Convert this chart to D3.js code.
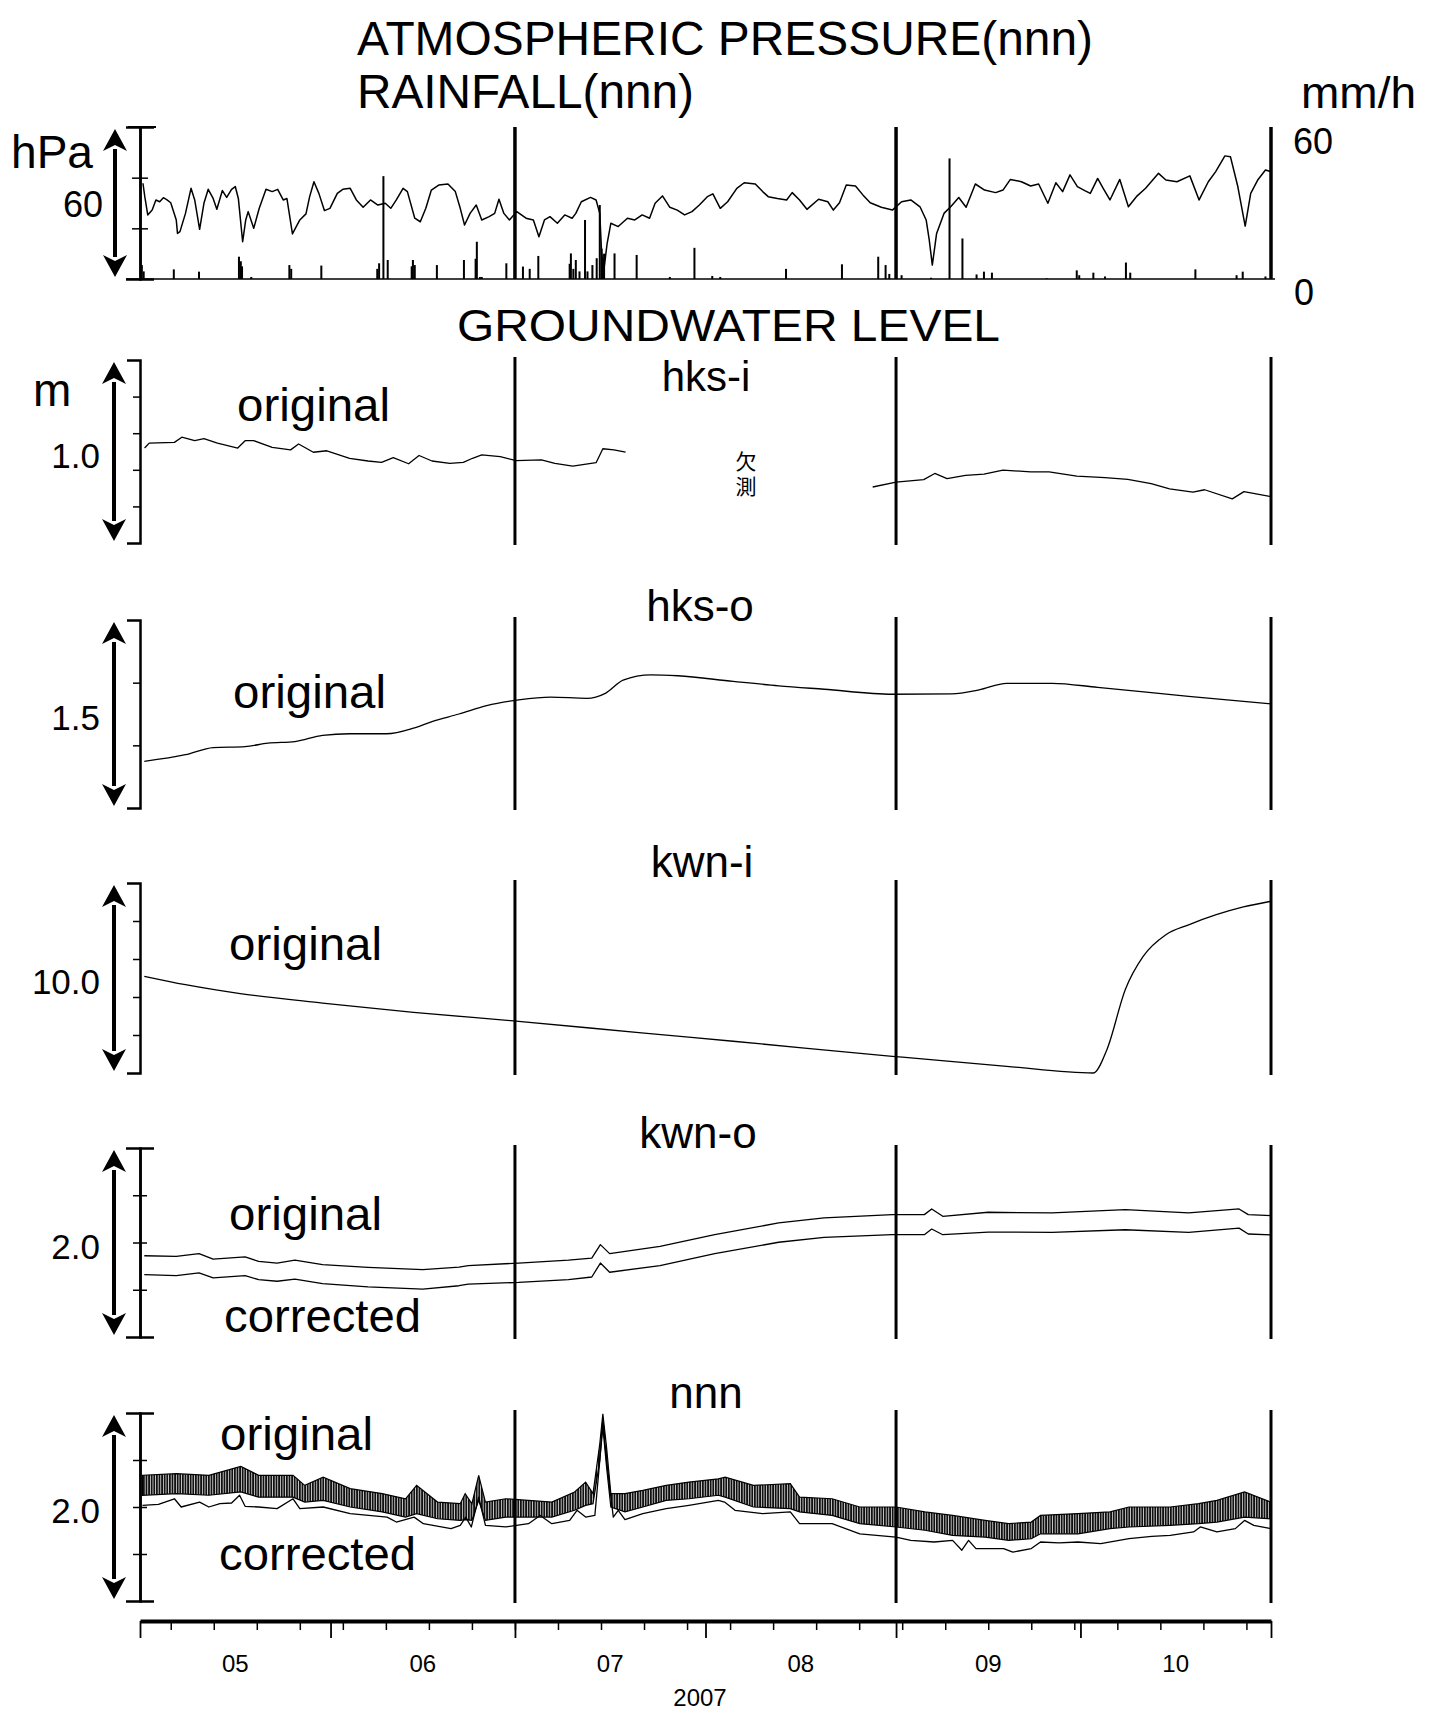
<!DOCTYPE html>
<html>
<head>
<meta charset="utf-8">
<script src="https://cdn.jsdelivr.net/npm/d3@7"></script>
<style>
  body { margin: 0; background: #fff; }
  svg { display: block; }
  text { font-family: "Liberation Sans", Arial, Helvetica, sans-serif; fill: #000; }
</style>
</head>
<body>
<svg id="chart" width="1435" height="1714"></svg>
<script>
// ---- observation period -------------------------------------------------
const periodStart = "2007-05-01";
const periodEnd = "2007-11-01";
const dividerDates = ["2007-07-01", "2007-09-01", "2007-11-01"];
const monthLabels = ["05", "06", "07", "08", "09", "10"];
const yearLabel = "2007";

// ---- atmospheric pressure: [day since May 1, value] ----------------------
const pressureRange = [30, 90];
const pressureTicks = [50, 70, 90];
const pressureLabel = 60;
const pressure = [
  [0.48,67.8],[0.78,62.5],[1.26,55.3],[1.98,57.2],[2.59,61.2],[3.2,60.5],[3.8,62.1],[4.4,61.2],[5.0,60.1],[5.9,53.3],
  [6.1,48.0],[6.5,48.7],[7.4,55.9],[8.3,65.8],[8.9,61.2],[9.7,49.6],[10.4,59.9],[11.1,65.4],[11.9,61.8],[12.5,57.5],
  [13.4,64.9],[14.1,62.2],[14.9,65.4],[15.5,66.5],[16.0,61.8],[16.7,44.7],[17.2,53.3],[17.6,56.6],[18.5,50.0],[19.4,57.9],
  [20.5,65.4],[21.5,64.5],[22.4,65.4],[23.3,61.2],[23.9,61.8],[24.8,47.8],[26.0,53.3],[27.0,55.7],[27.6,62.5],[28.3,68.4],
  [29.1,63.8],[30.0,57.0],[30.9,57.9],[32.1,63.8],[33.0,65.4],[34.2,65.8],[35.2,61.2],[36.3,58.3],[37.5,61.2],[38.7,59.2],
  [39.9,59.9],[40.8,57.9],[41.7,61.2],[42.8,65.8],[43.5,64.5],[44.7,54.0],[45.6,52.6],[46.5,57.9],[47.4,65.1],[48.6,67.1],
  [50.1,67.5],[51.3,64.5],[52.1,57.9],[52.8,51.3],[53.7,55.9],[54.7,59.2],[55.6,53.3],[56.8,54.6],[57.7,55.9],[58.4,61.5],
  [59.2,55.9],[60.1,53.3],[61.3,56.6],[62.8,54.0],[64.0,53.3],[64.9,46.7],[65.8,53.3],[66.7,54.6],[67.9,52.0],[69.1,55.3],
  [70.3,54.0],[70.9,55.9],[71.8,60.5],[73.3,62.2],[74.2,61.2],[74.8,55.9],[75.1,40.1],[75.5,34.2],[76.0,44.1],[76.6,52.0],
  [77.8,50.7],[79.3,54.0],[80.5,53.3],[81.7,55.3],[82.9,54.0],[83.8,59.9],[85.0,62.8],[86.2,58.3],[87.4,57.2],[88.6,55.3],
  [89.8,56.6],[91.0,59.2],[92.3,62.5],[93.2,63.6],[94.4,57.9],[95.6,60.5],[97.1,65.8],[98.3,68.0],[100.1,67.5],[101.3,64.5],
  [102.2,62.5],[103.7,61.8],[105.2,61.2],[106.1,64.1],[107.3,61.2],[108.5,57.5],[110.4,61.5],[111.9,60.5],[112.8,57.2],[113.8,60.1],
  [114.9,67.1],[116.4,66.7],[117.6,63.2],[118.8,60.1],[120.6,58.3],[122.4,57.2],[123.9,60.5],[125.4,61.2],[126.9,58.5],[127.9,53.3],
  [128.4,45.4],[128.9,35.5],[129.6,48.0],[130.8,55.9],[132.0,58.8],[133.2,62.2],[134.4,58.3],[135.9,67.5],[137.4,65.1],[139.2,64.1],
  [140.4,65.1],[141.6,69.3],[143.4,68.4],[144.9,66.7],[146.2,67.5],[147.7,59.9],[149.0,68.0],[150.1,64.5],[151.3,71.1],[152.5,66.5],
  [153.7,64.9],[154.6,63.8],[155.8,69.7],[156.7,65.8],[157.8,61.2],[159.4,69.3],[160.8,58.5],[162.1,62.5],[163.6,65.8],[165.7,71.7],
  [166.9,69.1],[168.7,68.4],[170.8,70.7],[172.3,61.2],[173.8,68.4],[175.0,72.4],[176.5,78.6],[177.4,78.3],[178.6,66.5],[179.8,50.9],
  [180.7,63.8],[181.9,69.3],[183.1,73.0],[183.9,72.4]
];

// ---- hourly rainfall peaks: [day since May 1, mm/h] -----------------------
const rainRange = [0, 60];
const rainLabels = [60, 0];
const rainfall = [
  [0.3,5.5],[0.6,3.0],[5.5,3.8],[9.6,2.9],[16.1,8.8],[16.4,7.0],[16.6,5.0],[18.1,0.8],[24.3,5.5],[24.6,4.0],
  [29.5,5.3],[38.6,4.0],[38.9,6.2],[39.6,40.6],[40.3,7.5],[44.2,5.0],[44.4,7.5],[44.7,5.5],[48.3,5.5],[52.7,7.5],
  [54.6,8.0],[54.8,14.7],[55.3,0.8],[55.6,0.8],[59.6,6.2],[62.3,4.9],[63.4,4.0],[64.8,9.1],[69.9,6.0],[70.1,10.1],
  [70.5,4.0],[70.9,7.5],[71.5,3.0],[72.4,23.3],[72.8,3.0],[73.6,5.5],[74.3,8.2],[74.8,29.2],[75.1,12.0],[75.3,8.0],
  [75.5,10.0],[77.2,10.1],[80.8,9.5],[86.2,0.8],[90.2,12.3],[93.1,1.2],[94.4,0.8],[105.1,4.0],[114.2,5.8],[120.1,8.8],
  [121.3,5.5],[121.9,2.0],[123.9,1.5],[128.7,0.5],[131.7,47.6],[133.8,16.0],[136.1,1.8],[137.3,2.9],[138.6,2.5],[147.5,0.3],
  [152.4,3.4],[152.8,1.5],[155.1,2.5],[157.0,1.0],[160.4,6.5],[161.1,2.5],[171.7,3.8],[178.4,1.5],[179.4,2.9],[183.1,1.0]
];

// ---- groundwater level (m) ------------------------------------------------
const hksIRange = [0.5, 1.5];
const hksITicks = [0.7, 0.9, 1.1, 1.3];
const hksI = [
  [0.75,1.019],[1.5,1.046],[5.6,1.050],[6.8,1.078],[8.9,1.059],[10.4,1.070],[12.6,1.046],[15.9,1.019],[17.1,1.059],[18.5,1.059],
  [21.5,1.022],[24.5,1.009],[25.8,1.041],[28.2,0.996],[30.4,1.004],[34.1,0.963],[37.1,0.948],[39.3,0.941],[41.2,0.967],[43.7,0.933],
  [45.4,0.978],[47.5,0.948],[50.4,0.935],[52.6,0.941],[54.1,0.963],[55.6,0.981],[58.6,0.972],[61.2,0.950],[65.3,0.954],[67.5,0.935],
  [70.4,0.920],[74.2,0.939],[75.3,1.015],[77.1,1.009],[79.0,0.996],
  [100, null],
  [119.2,0.806],[123.0,0.833],[127.5,0.846],[129.3,0.880],[131.3,0.852],[134.3,0.870],[137.3,0.876],[140.4,0.898],[144.9,0.889],[147.9,0.889],
  [152.4,0.865],[157.0,0.857],[160.7,0.848],[164.5,0.824],[167.5,0.796],[171.3,0.778],[173.2,0.791],[177.7,0.741],[179.6,0.781],[184.0,0.754]
];

const hksORange = [1.2, 1.8];
const hksOTicks = [1.4, 1.6];
const hksO = [
  [0.7,1.349],[7.4,1.370],[11.9,1.393],[17.1,1.396],[20.8,1.407],[25.2,1.412],[29.7,1.432],[34.1,1.437],[40.1,1.437],[44.5,1.455],
  [47.5,1.476],[51.9,1.500],[56.4,1.527],[61.6,1.545],[66.8,1.554],[72.7,1.550],[75.7,1.566],[78.6,1.608],[83.1,1.625],[87.5,1.622],
  [96.5,1.604],[103.9,1.590],[111.3,1.579],[122.4,1.563],[132.1,1.564],[136.5,1.577],[141.0,1.598],[148.4,1.598],[155.8,1.585],[170.6,1.556],
  [184.0,1.532]
];

const kwnIRange = [9.5, 10.5];
const kwnITicks = [9.7, 9.9, 10.1, 10.3];
const kwnI = [
  [0.7,10.009],[7.4,9.965],[16.3,9.918],[29.7,9.868],[44.5,9.819],[61.6,9.772],[81.6,9.711],[96.5,9.667],[122.4,9.588],[141.0,9.535],
  [155.1,9.500],[157.3,9.623],[160.3,9.940],[163.2,10.114],[166.9,10.228],[170.6,10.280],[175.1,10.333],[179.5,10.374],[184.0,10.404]
];

const kwnORange = [1.6, 2.4];
const kwnOTicks = [1.8, 2.0, 2.2];
const kwnOOriginal = [
  [0.7,1.944],[5.9,1.941],[9.6,1.953],[11.9,1.930],[17.1,1.939],[19.3,1.920],[22.3,1.913],[25.2,1.925],[29.7,1.906],[37.1,1.895],
  [46.0,1.885],[51.9,1.896],[53.4,1.902],[61.6,1.913],[69.7,1.925],[73.5,1.934],[74.9,1.991],[76.4,1.953],[84.6,1.984],[93.5,2.033],
  [103.9,2.083],[111.3,2.104],[122.4,2.118],[127.6,2.118],[128.8,2.142],[130.6,2.111],[138.0,2.128],[148.4,2.125],[160.3,2.139],[170.6,2.125],
  [178.8,2.142],[180.3,2.118],[184.0,2.114]
];
const kwnOCorrected = [
  [0.7,1.864],[5.9,1.860],[9.6,1.871],[11.9,1.850],[17.1,1.860],[19.3,1.843],[22.3,1.836],[25.2,1.845],[29.7,1.826],[37.1,1.812],
  [46.0,1.803],[51.9,1.817],[53.4,1.824],[61.6,1.831],[69.7,1.843],[73.5,1.854],[74.9,1.913],[76.4,1.874],[84.6,1.902],[93.5,1.953],
  [103.9,2.001],[111.3,2.022],[122.4,2.033],[127.6,2.033],[128.8,2.057],[130.6,2.033],[138.0,2.044],[148.4,2.043],[160.3,2.054],[170.6,2.043],
  [178.8,2.061],[180.3,2.036],[184.0,2.032]
];

const nnnRange = [1.6, 2.4];
const nnnTicks = [1.8, 2.0, 2.2];
// original record swings within a daily band: [day, low, high]
const nnnOriginal = [
  [0.4,2.050,2.135],[5.95,2.057,2.142],[11.2,2.050,2.135],[16.4,2.064,2.173],[19.3,2.042,2.135],[24.9,2.042,2.135],[26.8,2.021,2.092],
  [29.8,2.028,2.127],[34.2,2.000,2.078],[39.4,1.979,2.057],[43.2,1.957,2.035],[45.0,1.972,2.092],[48.4,1.950,2.021],[52.1,1.943,2.014],
  [52.9,1.946,2.057],[54.0,1.943,2.014],[55.1,2.028,2.135],[56.2,1.943,2.021],[59.5,1.957,2.035],[63.2,1.957,2.028],[67.0,1.957,2.021],
  [70.7,1.986,2.064],[72.5,2.007,2.106],[73.7,2.014,2.057],[74.8,2.198,2.269],[75.3,2.340,2.397],[75.9,2.170,2.255],[76.6,2.000,2.057],
  [78.9,1.979,2.057],[81.8,2.000,2.071],[85.6,2.028,2.092],[89.3,2.035,2.106],[94.1,2.050,2.120],[95.2,2.042,2.127],[99.8,2.000,2.092],
  [105.8,1.993,2.099],[107.3,1.979,2.042],[112.6,1.964,2.035],[117.1,1.929,2.000],[123.0,1.915,2.000],[127.7,1.901,1.979],[132.2,1.879,1.964],
  [137.5,1.872,1.943],[141.3,1.858,1.929],[145.0,1.865,1.936],[146.5,1.886,1.964],[152.6,1.886,1.972],[157.8,1.908,1.979],[160.9,1.915,2.000],
  [167.6,1.922,2.000],[172.2,1.929,2.014],[175.2,1.936,2.028],[179.7,1.957,2.064],[184.0,1.950,2.021]
];
const nnnCorrected = [
  [0.4,2.007],[3.0,2.011],[5.6,2.035],[6.7,2.000],[9.7,2.021],[11.2,2.000],[13.0,2.014],[14.9,2.017],[16.2,2.050],[17.1,2.003],
  [19.3,2.000],[22.3,1.993],[24.9,2.035],[26.0,1.993],[29.8,2.000],[34.2,1.972],[37.2,1.964],[40.2,1.957],[41.7,1.936],[44.6,1.957],
  [46.1,1.929],[50.6,1.908],[52.1,1.922],[53.0,1.957],[53.9,1.915],[55.1,2.042],[56.2,1.922],[59.5,1.915],[63.2,1.929],[65.1,1.964],
  [67.0,1.929],[69.9,1.943],[71.1,1.986],[72.5,1.957],[74.0,1.964],[74.8,2.198],[75.3,2.369],[75.9,2.198],[77.0,1.957],[77.8,1.986],
  [78.9,1.946],[81.8,1.972],[85.6,1.993],[89.3,2.007],[94.1,2.028],[95.1,2.021],[96.8,1.986],[101.3,1.972],[105.8,1.979],[107.3,1.929],
  [112.6,1.929],[117.1,1.886],[123.0,1.872],[125.4,1.858],[129.2,1.851],[132.2,1.858],[133.7,1.816],[134.8,1.858],[136.0,1.823],[140.5,1.823],
  [142.0,1.808],[145.0,1.823],[146.5,1.851],[149.5,1.847],[152.6,1.851],[156.3,1.844],[160.9,1.865],[164.6,1.875],[167.6,1.879],[171.4,1.894],
  [172.5,1.915],[175.2,1.894],[178.2,1.908],[179.7,1.943],[181.2,1.922],[184.0,1.908]
];

// ---- drawing --------------------------------------------------------------
const svg = d3.select("#chart");
const parse = d3.utcParse("%Y-%m-%d");
const t0 = parse(periodStart), t1 = parse(periodEnd);
const dayToDate = d => new Date(t0.getTime() + d * 864e5);
const x = d3.scaleUtc().domain([t0, t1]).range([140, 1271]);
const xd = d => x(dayToDate(d));
const dividers = dividerDates.map(parse);

// dense vertical hatching stands in for the semidiurnal swing of the raw record
const defs = svg.append("defs");
const pat = defs.append("pattern").attr("id", "oscillation")
  .attr("patternUnits", "userSpaceOnUse").attr("width", 2.6).attr("height", 12);
pat.append("rect").attr("width", 2.6).attr("height", 12).attr("fill", "#fff");
pat.append("rect").attr("width", 1.9).attr("height", 12).attr("fill", "#111");

function label(g, px, py, str, size, opts = {}) {
  const t = g.append("text").attr("x", px).attr("y", py).text(str)
    .attr("font-size", size).attr("text-anchor", opts.anchor || "start");
  if (opts.len) t.attr("textLength", opts.len).attr("lengthAdjust", "spacingAndGlyphs");
  return t;
}

function doubleArrow(g, ax, yTop, yBot) {
  const head = 24, half = 12;
  g.append("line").attr("x1", ax).attr("x2", ax).attr("y1", yTop + head - 2).attr("y2", yBot - head + 2)
    .attr("stroke", "#000").attr("stroke-width", 4);
  g.append("path").attr("d", `M${ax},${yTop + 2} L${ax - half},${yTop + head} L${ax},${yTop + head - 6} L${ax + half},${yTop + head} Z`)
    .attr("fill", "#000");
  g.append("path").attr("d", `M${ax},${yBot - 2} L${ax - half},${yBot - head} L${ax},${yBot - head + 6} L${ax + half},${yBot - head} Z`)
    .attr("fill", "#000");
}

function leftAxis(g, y, ticks, both, capLen, tickLen) {
  const styleAxis = sel => {
    sel.selectAll("path.domain").attr("stroke", "#000").attr("stroke-width", 2.5);
    sel.selectAll(".tick line").attr("stroke", "#000").attr("stroke-width", 1.5);
  };
  const a = g.append("g").attr("transform", "translate(140,0)")
    .call(d3.axisLeft(y).tickValues(ticks).tickFormat("").tickSize(tickLen).tickSizeOuter(capLen));
  styleAxis(a);
  if (both) {
    const b = g.append("g").attr("transform", "translate(140,0)")
      .call(d3.axisRight(y).tickValues(ticks).tickFormat("").tickSize(tickLen).tickSizeOuter(capLen));
    styleAxis(b);
  }
}

function dividerLines(g, yTop, yBot, w) {
  g.selectAll("line.divider").data(dividers).join("line").attr("class", "divider")
    .attr("x1", d => x(d)).attr("x2", d => x(d)).attr("y1", yTop).attr("y2", yBot)
    .attr("stroke", "#000").attr("stroke-width", w);
}

// titles
label(svg, 357, 55, "ATMOSPHERIC PRESSURE(nnn)", 48, { len: 736 });
label(svg, 357, 108, "RAINFALL(nnn)", 48, { len: 337 });

// ---- pressure / rainfall panel ----
{
  const top = 127, bottom = 279;
  const g = svg.append("g");
  const yP = d3.scaleLinear().domain(pressureRange).range([bottom, top]);
  const yR = d3.scaleLinear().domain(rainRange).range([bottom, top]);

  // rainfall baseline
  g.append("line").attr("x1", 126).attr("x2", 1275).attr("y1", yR(0)).attr("y2", yR(0))
    .attr("stroke", "#000").attr("stroke-width", 1.5);
  g.selectAll("rect.rain").data(rainfall).join("rect").attr("class", "rain")
    .attr("x", d => xd(d[0]) - 1).attr("width", 2)
    .attr("y", d => yR(d[1])).attr("height", d => yR(0) - yR(d[1]))
    .attr("fill", "#000");

  g.append("path").datum(pressure)
    .attr("d", d3.line().x(d => xd(d[0])).y(d => yP(d[1])))
    .attr("fill", "none").attr("stroke", "#000").attr("stroke-width", 1.5).attr("stroke-linejoin", "round");

  dividerLines(g, top, bottom, 3.5);
  leftAxis(g, yP, pressureTicks.filter(v => v < pressureRange[1]), true, 14, 8);
  // top cap of the pressure axis
  g.append("line").attr("x1", 128).attr("x2", 156).attr("y1", yP(pressureRange[1])).attr("y2", yP(pressureRange[1]))
    .attr("stroke", "#000").attr("stroke-width", 2);

  doubleArrow(g, 115, top, bottom);
  label(g, 11, 168, "hPa", 46, { len: 82 });
  label(g, 103, yP(pressureLabel) + 14, String(pressureLabel), 36, { anchor: "end" });
  label(g, 1301, 108, "mm/h", 44, { len: 115 });
  label(g, 1293, yR(rainLabels[0]) + 27, String(rainLabels[0]), 36);
  label(g, 1294, yR(rainLabels[1]) + 26, String(rainLabels[1]), 36);
}

label(svg, 457, 341, "GROUNDWATER LEVEL", 45, { len: 543 });

// ---- groundwater panels ----
const panels = [
  { name: "hks-i", top: 360, bottom: 543, titleX: 706, titleY: 391, titleSize: 42, range: hksIRange, ticks: hksITicks, mark: "1.0", markValue: 1.0, both: false,
    series: [{ data: hksI, curve: d3.curveLinear }], texts: [["original", 237, 421, 153]], unit: true },
  { name: "hks-o", top: 620, bottom: 808, titleX: 700, titleY: 621, titleSize: 44, range: hksORange, ticks: hksOTicks, mark: "1.5", markValue: 1.5, both: false,
    series: [{ data: hksO, curve: d3.curveMonotoneX }], texts: [["original", 233, 708, 153]] },
  { name: "kwn-i", top: 883, bottom: 1073, titleX: 702, titleY: 877, titleSize: 44, range: kwnIRange, ticks: kwnITicks, mark: "10.0", markValue: 10.0, both: false,
    series: [{ data: kwnI, curve: d3.curveMonotoneX }], texts: [["original", 229, 960, 153]] },
  { name: "kwn-o", top: 1148, bottom: 1337, titleX: 698, titleY: 1148, titleSize: 44, range: kwnORange, ticks: kwnOTicks, mark: "2.0", markValue: 2.0, both: true,
    series: [{ data: kwnOOriginal, curve: d3.curveLinear }, { data: kwnOCorrected, curve: d3.curveLinear }],
    texts: [["original", 229, 1230, 153], ["corrected", 224, 1332, 197]] },
  { name: "nnn", top: 1413, bottom: 1601, titleX: 706, titleY: 1408, titleSize: 44, range: nnnRange, ticks: nnnTicks, mark: "2.0", markValue: 2.0, both: true,
    band: nnnOriginal, series: [{ data: nnnCorrected, curve: d3.curveLinear }],
    texts: [["original", 220, 1450, 153], ["corrected", 219, 1570, 197]] }
];

panels.forEach(p => {
  const g = svg.append("g").attr("class", "panel-" + p.name);
  const y = d3.scaleLinear().domain(p.range).range([p.bottom, p.top]);

  label(g, p.titleX, p.titleY, p.name, p.titleSize, { anchor: "middle" });

  if (p.band) {
    g.append("path").datum(p.band)
      .attr("d", d3.area().x(d => xd(d[0])).y0(d => y(d[1])).y1(d => y(d[2])))
      .attr("fill", "url(#oscillation)").attr("stroke", "#000").attr("stroke-width", 1.2);
  }
  p.series.forEach(s => {
    g.append("path").datum(s.data)
      .attr("d", d3.line().defined(d => d[1] != null).curve(s.curve).x(d => xd(d[0])).y(d => y(d[1])))
      .attr("fill", "none").attr("stroke", "#000").attr("stroke-width", 1.3).attr("stroke-linejoin", "round");
  });

  dividerLines(g, p.top - 3, p.bottom + 2, 3);
  leftAxis(g, y, p.ticks, p.both, p.both ? 14 : 13, 7);
  doubleArrow(g, 114, p.top, p.bottom);
  label(g, 100, y(p.markValue) + 16, p.mark, 35, { anchor: "end" });
  if (p.unit) label(g, 33, p.top + 46, "m", 46);
  p.texts.forEach(t => label(g, t[1], t[2], t[0], 46, { len: t[3] }));
});

// missing-data note in hks-i, set in vertical writing
svg.append("text").attr("x", 746).attr("y", 451).attr("font-size", 21)
  .style("font-family", "'Noto Sans CJK JP', sans-serif")
  .style("writing-mode", "vertical-rl").style("letter-spacing", "4px")
  .text("欠測");

// ---- time axis ----
{
  const axisY = 1621;
  const gw = svg.append("g").attr("transform", `translate(0,${axisY})`)
    .call(d3.axisBottom(x).tickValues(d3.utcSunday.range(t0, t1)).tickFormat("").tickSize(9).tickSizeOuter(0));
  gw.select("path.domain").attr("stroke", "#000").attr("stroke-width", 4);
  gw.selectAll(".tick line").attr("stroke", "#000").attr("stroke-width", 1.5);
  const months = d3.utcMonth.range(t0, d3.utcDay.offset(t1, 1));
  const gm = svg.append("g").attr("transform", `translate(0,${axisY})`)
    .call(d3.axisBottom(x).tickValues(months).tickFormat("").tickSize(17).tickSizeOuter(0));
  gm.select("path.domain").remove();
  gm.selectAll(".tick line").attr("stroke", "#000").attr("stroke-width", 1.8);

  const mids = d3.utcMonth.range(t0, t1).map(m => new Date((+m + +d3.utcMonth.offset(m, 1)) / 2));
  svg.selectAll("text.month").data(mids).join("text").attr("class", "month")
    .attr("x", d => x(d)).attr("y", 1672).attr("text-anchor", "middle")
    .attr("font-size", 24).text((d, i) => monthLabels[i]);
  label(svg, 700, 1706, yearLabel, 24, { anchor: "middle" });
}
</script>
</body>
</html>
